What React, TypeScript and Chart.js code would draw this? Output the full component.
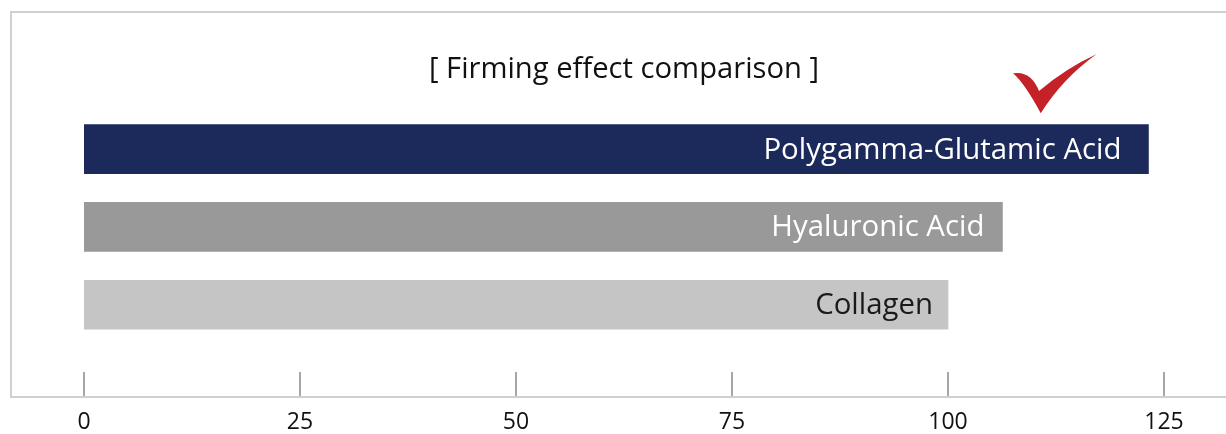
import React, { useEffect, useRef } from 'react';
import { Chart, registerables } from 'chart.js';

Chart.register(...registerables);

// ---- data ----
const categories: string[] = ['Polygamma-Glutamic Acid', 'Hyaluronic Acid', 'Collagen'];
const firmingValues: number[] = [123.2, 106.3, 100];
const tickValues: number[] = [0, 25, 50, 75, 100, 125];
const tickLabels: string[] = ['0', '25', '50', '75', '100', '125'];
const titleText = '[ Firming effect comparison ]';

// ---- styles ----
const barColors = ['#1b295b', '#999999', '#c5c5c5'];
const labelColors = ['#ffffff', '#ffffff', '#1a1a1a'];
const labelInsets = [27, 18, 15];
const FONT = "'Open Sans', 'Noto Sans', sans-serif";

const axisPlugin = {
  id: 'frameAxis',
  beforeDatasetsDraw(chart: any) {
    const ctx = chart.ctx;
    const x = chart.scales.x;
    const W = chart.width;
    ctx.save();
    ctx.strokeStyle = '#d0d0d0';
    ctx.lineWidth = 2;
    ctx.beginPath();
    ctx.moveTo(W, 12);
    ctx.lineTo(11, 12);
    ctx.lineTo(11, 397);
    ctx.lineTo(W, 397);
    ctx.stroke();
    ctx.strokeStyle = '#a6a6a6';
    ctx.lineWidth = 2;
    ctx.fillStyle = '#111111';
    ctx.font = `23px ${FONT}`;
    ctx.textAlign = 'center';
    ctx.textBaseline = 'middle';
    tickValues.forEach((v, i) => {
      const px = Math.round(x.getPixelForValue(v));
      ctx.beginPath();
      ctx.moveTo(px, 372);
      ctx.lineTo(px, 396);
      ctx.stroke();
      ctx.fillText(tickLabels[i], px, 422);
    });
    ctx.restore();
  },
};

const barLabelPlugin = {
  id: 'barLabels',
  afterDatasetsDraw(chart: any) {
    const ctx = chart.ctx;
    const meta = chart.getDatasetMeta(0);
    ctx.save();
    ctx.font = `29.4px ${FONT}`;
    ctx.textAlign = 'right';
    ctx.textBaseline = 'middle';
    meta.data.forEach((bar: any, i: number) => {
      ctx.fillStyle = labelColors[i];
      ctx.fillText(categories[i], bar.x - labelInsets[i], bar.y + 1);
    });
    ctx.restore();
  },
};

const checkPlugin = {
  id: 'checkmark',
  afterDraw(chart: any) {
    const ctx = chart.ctx;
    const bar = chart.getDatasetMeta(0).data[0];
    if (!bar) return;
    const ox = bar.x;
    const oy = bar.y - bar.height / 2;
    const P = (dx: number, dy: number) => [ox + dx, oy + dy];
    ctx.save();
    ctx.fillStyle = '#c42129';
    ctx.beginPath();
    let p = P(-135.4, -51.3);
    ctx.moveTo(p[0], p[1]);
    let c = P(-117.7, -54.3);
    p = P(-109.4, -33.6);
    ctx.quadraticCurveTo(c[0], c[1], p[0], p[1]);
    c = P(-82.7, -56.3);
    p = P(-52, -70.3);
    ctx.quadraticCurveTo(c[0], c[1], p[0], p[1]);
    c = P(-85.7, -46.3);
    p = P(-107.7, -11.3);
    ctx.quadraticCurveTo(c[0], c[1], p[0], p[1]);
    c = P(-123.8, -41.3);
    p = P(-135.4, -51.3);
    ctx.quadraticCurveTo(c[0], c[1], p[0], p[1]);
    ctx.closePath();
    ctx.fill();
    ctx.restore();
  },
};

export default function App() {
  const ref = useRef<HTMLCanvasElement | null>(null);
  useEffect(() => {
    if (!ref.current) return;
    const chart = new Chart(ref.current, {
      type: 'bar',
      data: {
        labels: categories,
        datasets: [
          {
            data: firmingValues,
            backgroundColor: barColors,
            borderWidth: 0,
            barThickness: 49,
          },
        ],
      },
      options: {
        indexAxis: 'y',
        responsive: false,
        animation: false,
        devicePixelRatio: 1,
        layout: { padding: { left: 84, right: 62, top: 0, bottom: 90.4 } },
        plugins: {
          legend: { display: false },
          tooltip: { enabled: false },
          title: {
            display: true,
            text: titleText,
            color: '#111111',
            font: { family: FONT, size: 29.2, weight: 'normal', lineHeight: 1.2 },
            padding: { top: 52.4, bottom: 22.8 },
          },
        },
        scales: {
          x: {
            type: 'linear',
            display: false,
            min: 0,
            max: 125,
          },
          y: {
            type: 'category',
            display: false,
          },
        },
      },
      plugins: [axisPlugin, barLabelPlugin, checkPlugin],
    } as any);
    return () => chart.destroy();
  }, []);
  return (
    <div style={{ position: 'fixed', left: 0, top: 0, width: 1226, height: 434, background: '#fff' }}>
      <canvas ref={ref} width={1226} height={434} />
    </div>
  );
}
